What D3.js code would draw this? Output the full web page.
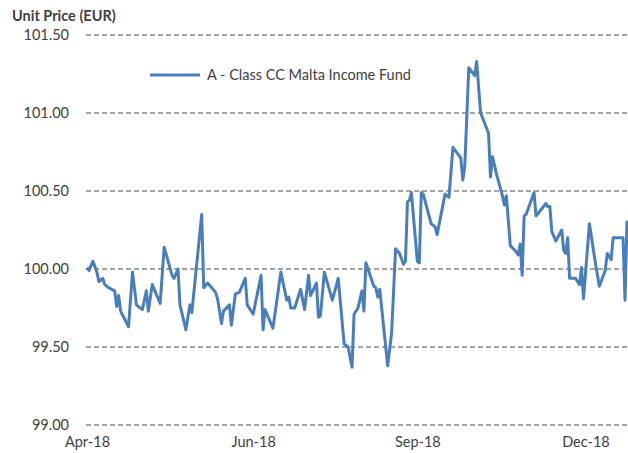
<!DOCTYPE html>
<html>
<head>
<meta charset="utf-8">
<script src="https://cdn.jsdelivr.net/npm/d3@7"></script>
<style>
  body { margin: 0; background: #fff; }
  svg { display: block; font-family: Lato, "Open Sans", sans-serif; }
</style>
</head>
<body>
<svg width="628" height="453"></svg>
<script>
// days counted from 2 Apr 2018
const days = [0, 1, 3, 5, 6, 8, 9, 11, 14, 15, 16, 17, 21, 23, 25, 28, 30, 31, 33, 37,
    39, 43, 44, 46, 47, 50, 52, 53, 58, 59, 61, 65, 66, 68, 69, 72, 73, 75, 77, 80,
    81, 84, 88, 89, 90, 94, 98, 101, 102, 103, 105, 108, 110, 112, 113, 116, 117, 118, 120, 124,
    126, 127, 130, 132, 134, 135, 137, 139, 140, 141, 145, 146, 147, 148, 152, 154, 156, 158, 160, 161,
    162, 163, 164, 167, 168, 169, 170, 174, 176, 177, 181, 183, 185, 189, 190, 191, 193, 196, 197, 199,
    203, 204, 205, 207, 210, 211, 212, 214, 217, 218, 219, 220, 221, 222, 226, 227, 232, 233, 234, 235,
    237, 240, 241, 242, 243, 244, 247, 249, 250, 251, 254, 257, 259, 262, 263, 265, 266, 271, 272, 273];
const prices = [100.01, 99.99, 100.05, 99.98, 99.92, 99.94, 99.90, 99.88, 99.86, 99.76, 99.83, 99.73, 99.63, 99.98, 99.77, 99.74, 99.86, 99.73, 99.90, 99.78,
    100.14, 99.96, 99.94, 100.00, 99.77, 99.61, 99.77, 99.72, 100.35, 99.88, 99.91, 99.85, 99.81, 99.65, 99.73, 99.77, 99.64, 99.84, 99.85, 99.94,
    99.77, 99.71, 99.96, 99.61, 99.74, 99.62, 99.98, 99.80, 99.82, 99.75, 99.75, 99.87, 99.74, 99.96, 99.83, 99.91, 99.69, 99.70, 99.98, 99.80,
    99.89, 99.94, 99.52, 99.50, 99.37, 99.71, 99.75, 99.86, 99.73, 100.04, 99.89, 99.88, 99.82, 99.87, 99.38, 99.59, 100.13, 100.10, 100.03, 100.05,
    100.43, 100.44, 100.49, 100.05, 100.04, 100.49, 100.48, 100.29, 100.27, 100.22, 100.48, 100.46, 100.78, 100.71, 100.57, 100.66, 101.29, 101.24, 101.33, 101.00,
    100.87, 100.59, 100.72, 100.61, 100.47, 100.41, 100.47, 100.15, 100.11, 100.09, 100.16, 99.96, 100.34, 100.35, 100.49, 100.34, 100.42, 100.40, 100.40, 100.24,
    100.18, 100.25, 100.12, 100.10, 100.20, 99.94, 99.94, 99.90, 100.01, 99.81, 100.29, 100.04, 99.89, 99.99, 100.10, 100.06, 100.20, 100.20, 99.80, 100.31];
const yTicks = [99.00, 99.50, 100.00, 100.50, 101.00, 101.50];
const xTickDays = [0, 84, 167, 252];
const seriesName = "A - Class CC Malta Income Fund";

const svg = d3.select("svg");
const start = new Date(2018, 3, 2);
const data = days.map((d, i) => ({date: d3.timeDay.offset(start, d), value: prices[i]}));

const x = d3.scaleTime()
    .domain([start, d3.timeDay.offset(start, 273)])
    .range([87, 627]);
const y = d3.scaleLinear()
    .domain([99, 101.5])
    .range([425, 35]);

// gridlines
svg.append("g")
    .selectAll("line")
    .data(yTicks)
    .enter().append("line")
    .attr("x1", 86)
    .attr("x2", 628)
    .attr("y1", d => y(d))
    .attr("y2", d => y(d))
    .attr("stroke", "#878787")
    .attr("stroke-width", 1.5)
    .attr("stroke-dasharray", "5,3");

const yAxis = svg.append("g")
    .attr("transform", "translate(72,0)")
    .call(d3.axisLeft(y).tickValues(yTicks).tickFormat(d3.format(".2f")).tickSize(0));
yAxis.select(".domain").remove();
yAxis.selectAll("text")
    .attr("font-size", 14.5)
    .attr("font-family", "Lato, sans-serif")
    .attr("fill", "#404040");

const xAxis = svg.append("g")
    .attr("transform", "translate(0,434)")
    .call(d3.axisBottom(x)
        .tickValues(xTickDays.map(d => d3.timeDay.offset(start, d)))
        .tickFormat(d3.timeFormat("%b-%y"))
        .tickSize(0));
xAxis.select(".domain").remove();
xAxis.selectAll("text")
    .attr("font-size", 14.5)
    .attr("font-family", "Lato, sans-serif")
    .attr("fill", "#404040");

svg.append("text")
    .attr("x", 12)
    .attr("y", 21)
    .attr("font-size", 14.5)
    .attr("font-weight", "bold")
    .attr("fill", "#404040")
    .text("Unit Price (EUR)");

const line = d3.line()
    .x(d => x(d.date))
    .y(d => y(d.value));

svg.append("path")
    .datum(data)
    .attr("fill", "none")
    .attr("stroke", "#4a7ebb")
    .attr("stroke-width", 3)
    .attr("stroke-linejoin", "round")
    .attr("d", line);

// legend
const legend = svg.append("g").attr("transform", "translate(150,75)");
legend.append("line")
    .attr("x1", 0).attr("x2", 50)
    .attr("stroke", "#4a7ebb")
    .attr("stroke-width", 3);
legend.append("text")
    .attr("x", 57)
    .attr("dy", "0.35em")
    .attr("font-size", 14.5)
    .attr("fill", "#404040")
    .text(seriesName);
</script>
</body>
</html>
